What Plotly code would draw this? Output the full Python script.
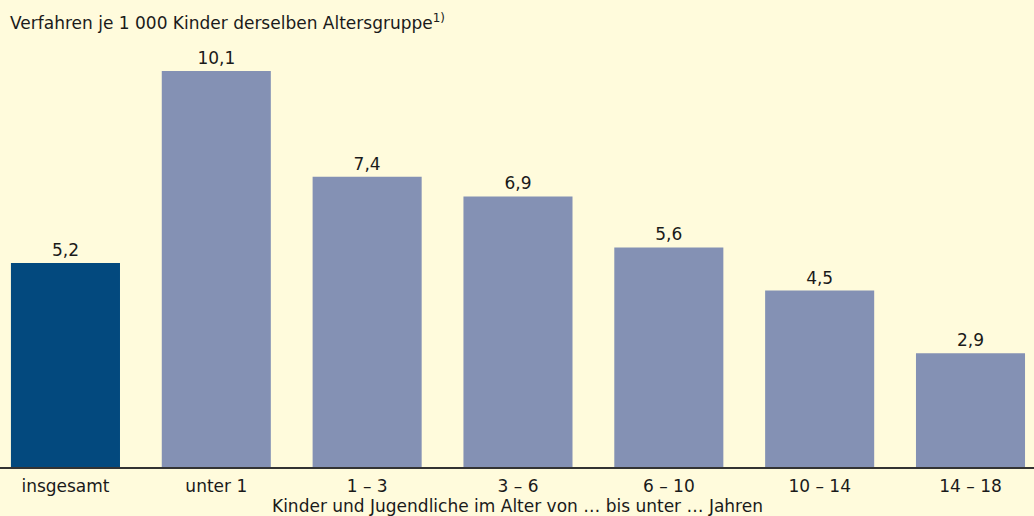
import plotly.graph_objects as go

# Werte aus der Grafik
categories = ["insgesamt", "unter 1", "1 – 3", "3 – 6", "6 – 10", "10 – 14", "14 – 18"]
values = [5.2, 10.1, 7.4, 6.9, 5.6, 4.5, 2.9]
bar_colors = ["#03497E", "#8491B4", "#8491B4", "#8491B4", "#8491B4", "#8491B4", "#8491B4"]

title_text = "Verfahren je 1 000 Kinder derselben Altersgruppe<sup>1)</sup>"
xaxis_text = "Kinder und Jugendliche im Alter von … bis unter … Jahren"

FONT = "DejaVu Sans, Verdana, sans-serif"
SIZE = 17
BG = "#FFFBDC"
TXT = "#1a1a1a"

fig = go.Figure()

fig.add_trace(go.Bar(
    x=list(range(len(categories))),
    y=values,
    marker=dict(color=bar_colors, line=dict(width=0)),
    texttemplate="%{y:.1f}",
    textposition="outside",
    textfont=dict(family=FONT, size=SIZE, color=TXT),
    cliponaxis=False,
    hoverinfo="skip",
))

fig.update_layout(
    width=1034,
    height=516,
    margin=dict(l=0, r=0, t=20, b=49),
    paper_bgcolor=BG,
    plot_bgcolor=BG,
    separators=",.",
    bargap=0.277,
    showlegend=False,
    font=dict(family=FONT, size=SIZE, color=TXT),
    xaxis=dict(
        range=[-0.434, 6.421],
        tickmode="array",
        tickvals=list(range(len(categories))),
        ticktext=categories,
        showline=True,
        linecolor="#333333",
        linewidth=2,
        ticks="",
        ticklabelstandoff=3,
        showgrid=False,
        zeroline=False,
        tickfont=dict(family=FONT, size=SIZE, color=TXT),
    ),
    yaxis=dict(
        range=[0, 11.40],
        visible=False,
        showgrid=False,
        zeroline=False,
    ),
    annotations=[
        dict(
            text=title_text, x=0, y=1, xref="paper", yref="paper",
            xanchor="left", yanchor="middle", xshift=8, yshift=-2,
            showarrow=False, font=dict(family=FONT, size=SIZE, color=TXT),
        ),
        dict(
            text=xaxis_text, x=0.5, y=0, xref="paper", yref="paper",
            xanchor="center", yanchor="middle", yshift=-39,
            showarrow=False, font=dict(family=FONT, size=SIZE, color=TXT),
        ),
    ],
)

fig.write_html(
    "out.html",
    config={"displayModeBar": False},
    post_script="document.body.style.margin='0';document.body.style.overflow='hidden';",
)
